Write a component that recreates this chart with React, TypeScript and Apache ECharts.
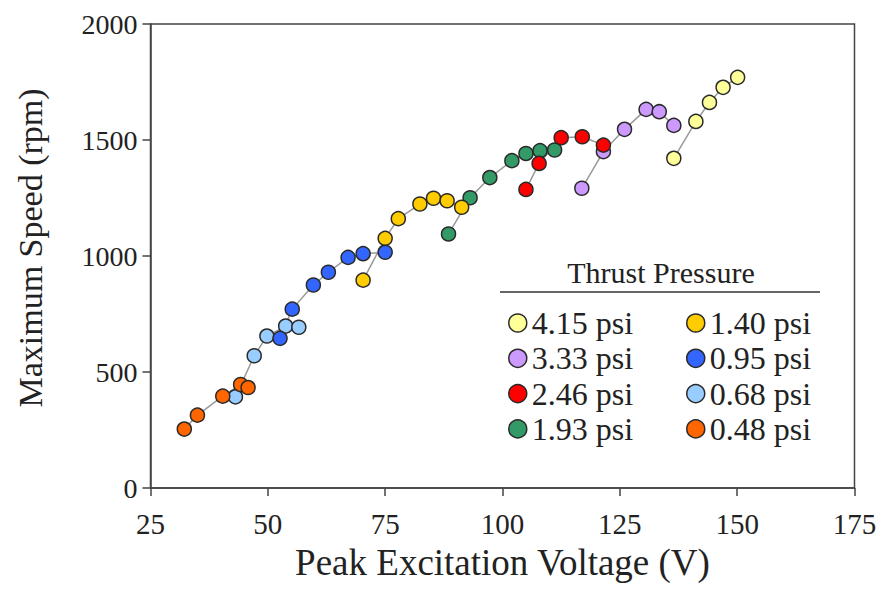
import React, { useEffect, useRef } from "react";
import * as echarts from "echarts";

const xTicks = [25, 50, 75, 100, 125, 150, 175];
const yTicks = [0, 500, 1000, 1500, 2000];

const labels = ["4.15 psi", "3.33 psi", "2.46 psi", "1.93 psi", "1.40 psi", "0.95 psi", "0.68 psi", "0.48 psi"];
const colors = ["#FFFF99", "#CC99FF", "#FF0000", "#339966", "#FFCC00", "#3366FF", "#99CCFF", "#FF6600"];

const psi415 = [[136.5, 1421], [141.2, 1580], [144.1, 1662], [147.0, 1727], [150.1, 1770]];
const psi333 = [[116.9, 1292], [121.5, 1450], [126.0, 1546], [130.6, 1632], [133.4, 1622], [136.5, 1563]];
const psi246 = [[105.0, 1287], [107.8, 1399], [112.5, 1510], [117.0, 1514], [121.5, 1478]];
const psi193 = [[88.5, 1095], [93.1, 1251], [97.3, 1338], [102.0, 1411], [105.0, 1442], [108.0, 1454], [111.1, 1457]];
const psi140 = [[70.3, 896], [75.0, 1076], [77.8, 1161], [82.4, 1224], [85.3, 1249], [88.2, 1238], [91.3, 1210]];
const psi095 = [[52.6, 645], [55.2, 771], [59.7, 875], [62.9, 930], [67.1, 994], [70.3, 1010], [75.0, 1016]];
const psi068 = [[43.1, 393], [47.1, 570], [49.8, 655], [53.8, 698], [56.6, 693]];
const psi048 = [[32.2, 254], [35.0, 314], [40.4, 396], [44.2, 446], [45.8, 433]];

const seriesData = [psi415, psi333, psi246, psi193, psi140, psi095, psi068, psi048];
// draw order (later on top)
const drawOrder = [0, 1, 3, 2, 4, 6, 5, 7];

const FONT = "'Liberation Serif', 'Times New Roman', serif";

export default function App() {
  const ref = useRef<HTMLDivElement>(null);
  useEffect(() => {
    if (!ref.current) return;
    const chart = echarts.init(ref.current, null, { renderer: "svg" });
    const series = drawOrder.map((i) => ({
      name: labels[i],
      type: "line",
      data: seriesData[i],
      symbol: "circle",
      symbolSize: 14,
      lineStyle: { color: "#999999", width: 1.5 },
      itemStyle: { color: colors[i], borderColor: "#2a2a2a", borderWidth: 1.5 },
      emphasis: { disabled: true },
    }));
    const legendBase = {
      orient: "vertical",
      top: 302,
      icon: "circle",
      itemWidth: 18,
      itemHeight: 18,
      itemGap: 3.3,
      selectedMode: false,
      textStyle: { fontFamily: FONT, fontSize: 32, color: "#222", lineHeight: 30 },
      itemStyle: { borderColor: "#2a2a2a", borderWidth: 1.5 },
    };
    chart.setOption({
      animation: false,
      backgroundColor: "#ffffff",
      grid: { left: 150.5, right: 28.5, top: 24, bottom: 110, show: true, borderColor: "#444", borderWidth: 1.5 },
      xAxis: {
        type: "value",
        min: 25,
        max: 175,
        interval: 25,
        name: "Peak Excitation Voltage (V)",
        nameLocation: "middle",
        nameGap: 56,
        nameTextStyle: { fontFamily: FONT, fontSize: 37, color: "#222" },
        axisLine: { lineStyle: { color: "#444", width: 1.5 } },
        axisTick: { inside: false, length: 8, lineStyle: { color: "#444", width: 1.5 } },
        axisLabel: { fontFamily: FONT, fontSize: 29, color: "#222", margin: 21, formatter: (v: number) => (xTicks.includes(v) ? String(v) : "") },
        splitLine: { show: false },
      },
      yAxis: {
        type: "value",
        min: 0,
        max: 2000,
        interval: 500,
        axisLine: { lineStyle: { color: "#444", width: 1.5 } },
        axisTick: { inside: false, length: 8, lineStyle: { color: "#444", width: 1.5 } },
        axisLabel: { fontFamily: FONT, fontSize: 28, color: "#222", margin: 13, formatter: (v: number) => (yTicks.includes(v) ? String(v) : "") },
        splitLine: { show: false },
      },
      legend: [
        { ...legendBase, left: 503, data: labels.slice(0, 4) },
        { ...legendBase, left: 681, data: labels.slice(4, 8) },
      ],
      graphic: [
        {
          type: "text",
          x: 30,
          y: 248,
          rotation: Math.PI / 2,
          style: { text: "Maximum Speed (rpm)", fontFamily: FONT, fontSize: 34, fill: "#222", textAlign: "center", textVerticalAlign: "middle" },
        },
        {
          type: "text",
          x: 661,
          y: 272,
          style: { text: "Thrust Pressure", fontFamily: FONT, fontSize: 30, fill: "#222", textAlign: "center", textVerticalAlign: "middle" },
        },
        {
          type: "line",
          shape: { x1: 500, y1: 292, x2: 820, y2: 292 },
          style: { stroke: "#333", lineWidth: 1.5 },
        },
      ],
      series,
    });
    return () => chart.dispose();
  }, []);
  return <div ref={ref} style={{ width: 883, height: 598, position: "absolute", left: 0, top: 0 }} />;
}
